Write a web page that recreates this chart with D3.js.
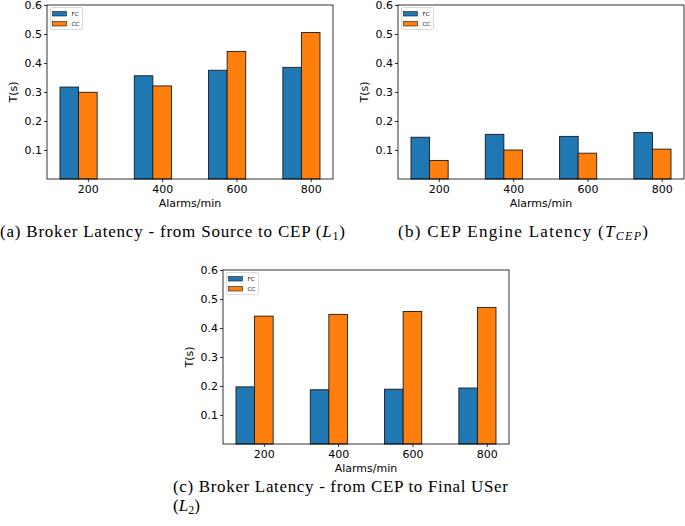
<!DOCTYPE html>
<html>
<head>
<meta charset="utf-8">
<script src="https://cdn.jsdelivr.net/npm/d3@7/dist/d3.min.js"></script>
<style>
  html, body { margin: 0; padding: 0; background: #fff; }
  svg { display: block; }
</style>
</head>
<body>
<svg id="chart" width="685" height="526"></svg>
<script>
// ---------------- data ----------------
const categories = ["200", "400", "600", "800"];
const seriesNames = ["FC", "CC"];
const yTicks = [0.1, 0.2, 0.3, 0.4, 0.5, 0.6];
const xLabel = "Alarms/min";
const yLabel = "T(s)";

// (a) Broker latency, source -> CEP
const fcA = [0.317, 0.356, 0.375, 0.385];
const ccA = [0.299, 0.321, 0.440, 0.505];
// (b) CEP engine latency
const fcB = [0.144, 0.154, 0.147, 0.160];
const ccB = [0.064, 0.100, 0.089, 0.103];
// (c) Broker latency, CEP -> final user
const fcC = [0.197, 0.187, 0.189, 0.193];
const ccC = [0.441, 0.447, 0.457, 0.471];

const captionA = ["(a) Broker Latency - from Source to CEP (", "L", "1", ")"];
const captionB = ["(b) CEP Engine Latency (", "T", "CEP", ")"];
const captionC1 = "(c) Broker Latency - from CEP to Final USer";
const captionC2 = ["(", "L", "2", ")"];

// ---------------- layout ----------------
const colors = { FC: "#1f77b4", CC: "#ff7f0e" };
const W = 286, H = 174;
const panels = [
  { left: 47,  top: 5,   fc: fcA, cc: ccA },
  { left: 398, top: 5,   fc: fcB, cc: ccB },
  { left: 223, top: 270, fc: fcC, cc: ccC }
];

const svg = d3.select("#chart");
const sansFont = "DejaVu Sans, sans-serif";
const serifFont = "Liberation Serif, Times New Roman, serif";

const x = d3.scaleLinear().domain([-0.3, 3.55]).range([0, W]);
const y = d3.scaleLinear().domain([0, 0.6]).range([H, 0]);
const barW = 0.25;

panels.forEach(p => {
  const g = svg.append("g").attr("transform", `translate(${p.left},${p.top})`);

  const rows = categories.map((c, i) => ({ i, c, FC: p.fc[i], CC: p.cc[i] }));

  // bars
  seriesNames.forEach((s, si) => {
    g.selectAll(null).data(rows).enter().append("rect")
      .attr("x", d => x(d.i - 0.125 + si * barW))
      .attr("width", d => x(d.i - 0.125 + (si + 1) * barW) - x(d.i - 0.125 + si * barW))
      .attr("y", d => y(d[s]))
      .attr("height", d => y(0) - y(d[s]))
      .attr("fill", colors[s])
      .attr("stroke", "#1a1a1a")
      .attr("stroke-width", 0.9);
  });

  // axes
  const yAxis = d3.axisLeft(y).tickValues(yTicks).tickFormat(d3.format(".1f"))
    .tickSize(3).tickPadding(2).tickSizeOuter(0);
  const gy = g.append("g").call(yAxis);
  gy.select(".domain").remove();
  gy.selectAll("text").attr("font-family", sansFont).attr("font-size", 11).attr("fill", "#000");
  gy.selectAll("line").attr("stroke", "#000").attr("stroke-width", 0.8);

  const xAxis = d3.axisBottom(x).tickValues(categories.map((c, i) => i + 0.25))
    .tickFormat((d, i) => categories[i]).tickSize(3).tickPadding(3).tickSizeOuter(0);
  const gx = g.append("g").attr("transform", `translate(0,${H})`).call(xAxis);
  gx.select(".domain").remove();
  gx.selectAll("text").attr("font-family", sansFont).attr("font-size", 11).attr("fill", "#000");
  gx.selectAll("line").attr("stroke", "#000").attr("stroke-width", 0.8);

  // frame
  g.append("rect").attr("x", 0).attr("y", 0).attr("width", W).attr("height", H)
    .attr("fill", "none").attr("stroke", "#000").attr("stroke-width", 0.8);

  // axis labels
  g.append("text").attr("x", W / 2).attr("y", H + 28)
    .attr("text-anchor", "middle").attr("font-family", sansFont).attr("font-size", 11)
    .text(xLabel);
  g.append("text").attr("transform", `translate(-30,${H / 2}) rotate(-90)`)
    .attr("text-anchor", "middle").attr("font-family", sansFont).attr("font-size", 11)
    .text(yLabel);

  // legend
  const lg = g.append("g").attr("transform", "translate(3.5,2.5)");
  lg.append("rect").attr("width", 32).attr("height", 22).attr("rx", 1.5)
    .attr("fill", "#fff").attr("stroke", "#d0d0d0").attr("stroke-width", 0.8);
  seriesNames.forEach((s, si) => {
    lg.append("rect").attr("x", 2).attr("y", 4 + si * 10).attr("width", 14).attr("height", 4.5)
      .attr("fill", colors[s]).attr("stroke", "#1a1a1a").attr("stroke-width", 0.6);
    lg.append("text").attr("x", 21).attr("y", 8.5 + si * 10)
      .attr("font-family", sansFont).attr("font-size", 5.5).text(s);
  });
});

// ---------------- captions ----------------
const capSize = 17;
function mathCaption(xp, yp, parts, len, subSize) {
  const t = svg.append("text").attr("x", xp).attr("y", yp)
    .attr("font-family", serifFont).attr("font-size", capSize).attr("fill", "#000");
  t.append("tspan").text(parts[0]);
  t.append("tspan").attr("font-style", "italic").text(parts[1]);
  t.append("tspan").attr("font-size", subSize).attr("dy", 3)
    .attr("font-style", parts[2].length > 1 ? "italic" : "normal").text(parts[2]);
  t.append("tspan").attr("dy", -3).text(parts[3]);
  if (len) t.attr("textLength", len).attr("lengthAdjust", "spacing");
  return t;
}
mathCaption(0, 237, captionA, 345, 12);
mathCaption(398, 237, captionB, 250, 12);
svg.append("text").attr("x", 173).attr("y", 492)
  .attr("font-family", serifFont).attr("font-size", capSize)
  .attr("textLength", 335).attr("lengthAdjust", "spacing")
  .text(captionC1);
mathCaption(173, 511, captionC2, null, 12);
</script>
</body>
</html>
